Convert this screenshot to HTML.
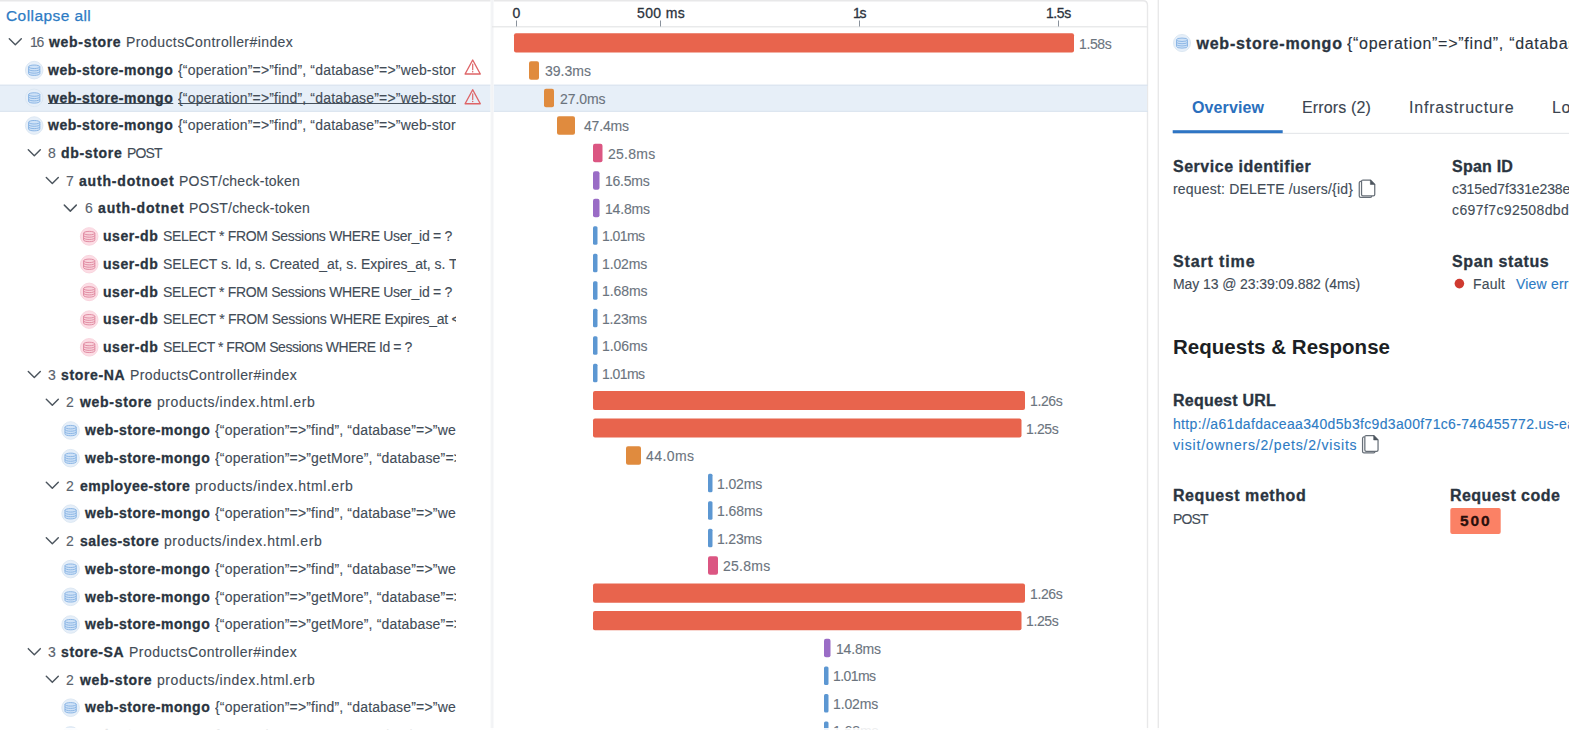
<!DOCTYPE html>
<html lang="en"><head><meta charset="utf-8"><title>Trace view</title>
<style>
html,body{margin:0;padding:0;background:#fff}
body{width:1569px;height:730px;overflow:hidden;position:relative;font-family:"Liberation Sans", sans-serif;-webkit-font-smoothing:antialiased}
.abs{position:absolute}
.t{white-space:nowrap}
.b{-webkit-text-stroke:0.3px currentColor}
.r{-webkit-text-stroke:0.12px currentColor}
</style></head>
<body>
<svg class="abs" style="left:0;top:0" width="1569" height="730" viewBox="0 0 1569 730">
<path d="M0 0.7 H1143 Q1147.5 0.7 1147.5 5.2 V730" fill="none" stroke="#e8e8e9" stroke-width="1.4"/>
<rect x="0" y="84.7" width="1147" height="27" fill="#e7eff8"/>
<rect x="0" y="84.7" width="1148" height="1" fill="#d9e3ee"/>
<rect x="0" y="110.8" width="1148" height="1" fill="#d9e3ee"/>
<rect x="490.4" y="0" width="3.4" height="730" fill="#f7f8f9"/>
<rect x="491.4" y="0" width="1.4" height="730" fill="#f1f2f4"/>
<rect x="492" y="26.2" width="655.5" height="1.2" fill="#e4e5e7"/>
<rect x="1157.6" y="0" width="1.4" height="730" fill="#e8e8e9"/>
<path transform="translate(8 37.10)" d="M1.3 1.7 L7.3 7.7 L13.3 1.7" fill="none" stroke="#4c555e" stroke-width="1.45" stroke-linecap="round" stroke-linejoin="round"/>
<g transform="translate(34.20 70.12) scale(0.925)"><circle cx="0" cy="0" r="9.5" fill="#e6eff9" stroke="#dae6f2" stroke-width="1"/><path d="M-6.1 -3.6 v7.4 a6.1 1.9 0 0 0 12.2 0 v-7.4" fill="#cfe2f7" stroke="#86b2e3" stroke-width="1"/><ellipse cx="0" cy="-3.6" rx="6.1" ry="1.9" fill="#cfe2f7" stroke="#86b2e3" stroke-width="1"/><path d="M-6.1 -1.1 a6.1 1.9 0 0 0 12.2 0 M-6.1 1.4 a6.1 1.9 0 0 0 12.2 0" fill="none" stroke="#86b2e3" stroke-width="1"/></g>
<g transform="translate(463.70 58.50)"><path d="M9 1.5 L16.6 15.5 H1.4 Z" fill="none" stroke="#de6467" stroke-width="1.35" stroke-linejoin="round"/><path d="M9 5.6 V11.2" stroke="#de6467" stroke-width="1.2" stroke-linecap="round"/><circle cx="9" cy="13.2" r="0.75" fill="#de6467"/></g>
<g transform="translate(34.20 97.84) scale(0.925)"><circle cx="0" cy="0" r="9.5" fill="#e6eff9" stroke="#dae6f2" stroke-width="1"/><path d="M-6.1 -3.6 v7.4 a6.1 1.9 0 0 0 12.2 0 v-7.4" fill="#cfe2f7" stroke="#86b2e3" stroke-width="1"/><ellipse cx="0" cy="-3.6" rx="6.1" ry="1.9" fill="#cfe2f7" stroke="#86b2e3" stroke-width="1"/><path d="M-6.1 -1.1 a6.1 1.9 0 0 0 12.2 0 M-6.1 1.4 a6.1 1.9 0 0 0 12.2 0" fill="none" stroke="#86b2e3" stroke-width="1"/></g>
<g transform="translate(463.70 88.20)"><path d="M9 1.5 L16.6 15.5 H1.4 Z" fill="none" stroke="#de6467" stroke-width="1.35" stroke-linejoin="round"/><path d="M9 5.6 V11.2" stroke="#de6467" stroke-width="1.2" stroke-linecap="round"/><circle cx="9" cy="13.2" r="0.75" fill="#de6467"/></g>
<g transform="translate(34.20 125.56) scale(0.925)"><circle cx="0" cy="0" r="9.5" fill="#e6eff9" stroke="#dae6f2" stroke-width="1"/><path d="M-6.1 -3.6 v7.4 a6.1 1.9 0 0 0 12.2 0 v-7.4" fill="#cfe2f7" stroke="#86b2e3" stroke-width="1"/><ellipse cx="0" cy="-3.6" rx="6.1" ry="1.9" fill="#cfe2f7" stroke="#86b2e3" stroke-width="1"/><path d="M-6.1 -1.1 a6.1 1.9 0 0 0 12.2 0 M-6.1 1.4 a6.1 1.9 0 0 0 12.2 0" fill="none" stroke="#86b2e3" stroke-width="1"/></g>
<path transform="translate(27 147.98)" d="M1.3 1.7 L7.3 7.7 L13.3 1.7" fill="none" stroke="#4c555e" stroke-width="1.45" stroke-linecap="round" stroke-linejoin="round"/>
<path transform="translate(45 175.70)" d="M1.3 1.7 L7.3 7.7 L13.3 1.7" fill="none" stroke="#4c555e" stroke-width="1.45" stroke-linecap="round" stroke-linejoin="round"/>
<path transform="translate(63 203.42)" d="M1.3 1.7 L7.3 7.7 L13.3 1.7" fill="none" stroke="#4c555e" stroke-width="1.45" stroke-linecap="round" stroke-linejoin="round"/>
<g transform="translate(89.20 236.44) scale(0.925)"><circle cx="0" cy="0" r="9.5" fill="#fcdde5" stroke="#f9d3dc" stroke-width="1"/><path d="M-6.1 -3.6 v7.4 a6.1 1.9 0 0 0 12.2 0 v-7.4" fill="#f9d3dc" stroke="#de879e" stroke-width="1"/><ellipse cx="0" cy="-3.6" rx="6.1" ry="1.9" fill="#f9d3dc" stroke="#de879e" stroke-width="1"/><path d="M-6.1 -1.1 a6.1 1.9 0 0 0 12.2 0 M-6.1 1.4 a6.1 1.9 0 0 0 12.2 0" fill="none" stroke="#de879e" stroke-width="1"/></g>
<g transform="translate(89.20 264.16) scale(0.925)"><circle cx="0" cy="0" r="9.5" fill="#fcdde5" stroke="#f9d3dc" stroke-width="1"/><path d="M-6.1 -3.6 v7.4 a6.1 1.9 0 0 0 12.2 0 v-7.4" fill="#f9d3dc" stroke="#de879e" stroke-width="1"/><ellipse cx="0" cy="-3.6" rx="6.1" ry="1.9" fill="#f9d3dc" stroke="#de879e" stroke-width="1"/><path d="M-6.1 -1.1 a6.1 1.9 0 0 0 12.2 0 M-6.1 1.4 a6.1 1.9 0 0 0 12.2 0" fill="none" stroke="#de879e" stroke-width="1"/></g>
<g transform="translate(89.20 291.88) scale(0.925)"><circle cx="0" cy="0" r="9.5" fill="#fcdde5" stroke="#f9d3dc" stroke-width="1"/><path d="M-6.1 -3.6 v7.4 a6.1 1.9 0 0 0 12.2 0 v-7.4" fill="#f9d3dc" stroke="#de879e" stroke-width="1"/><ellipse cx="0" cy="-3.6" rx="6.1" ry="1.9" fill="#f9d3dc" stroke="#de879e" stroke-width="1"/><path d="M-6.1 -1.1 a6.1 1.9 0 0 0 12.2 0 M-6.1 1.4 a6.1 1.9 0 0 0 12.2 0" fill="none" stroke="#de879e" stroke-width="1"/></g>
<g transform="translate(89.20 319.60) scale(0.925)"><circle cx="0" cy="0" r="9.5" fill="#fcdde5" stroke="#f9d3dc" stroke-width="1"/><path d="M-6.1 -3.6 v7.4 a6.1 1.9 0 0 0 12.2 0 v-7.4" fill="#f9d3dc" stroke="#de879e" stroke-width="1"/><ellipse cx="0" cy="-3.6" rx="6.1" ry="1.9" fill="#f9d3dc" stroke="#de879e" stroke-width="1"/><path d="M-6.1 -1.1 a6.1 1.9 0 0 0 12.2 0 M-6.1 1.4 a6.1 1.9 0 0 0 12.2 0" fill="none" stroke="#de879e" stroke-width="1"/></g>
<g transform="translate(89.20 347.32) scale(0.925)"><circle cx="0" cy="0" r="9.5" fill="#fcdde5" stroke="#f9d3dc" stroke-width="1"/><path d="M-6.1 -3.6 v7.4 a6.1 1.9 0 0 0 12.2 0 v-7.4" fill="#f9d3dc" stroke="#de879e" stroke-width="1"/><ellipse cx="0" cy="-3.6" rx="6.1" ry="1.9" fill="#f9d3dc" stroke="#de879e" stroke-width="1"/><path d="M-6.1 -1.1 a6.1 1.9 0 0 0 12.2 0 M-6.1 1.4 a6.1 1.9 0 0 0 12.2 0" fill="none" stroke="#de879e" stroke-width="1"/></g>
<path transform="translate(27 369.74)" d="M1.3 1.7 L7.3 7.7 L13.3 1.7" fill="none" stroke="#4c555e" stroke-width="1.45" stroke-linecap="round" stroke-linejoin="round"/>
<path transform="translate(45 397.46)" d="M1.3 1.7 L7.3 7.7 L13.3 1.7" fill="none" stroke="#4c555e" stroke-width="1.45" stroke-linecap="round" stroke-linejoin="round"/>
<g transform="translate(70.60 430.48) scale(0.925)"><circle cx="0" cy="0" r="9.5" fill="#e6eff9" stroke="#dae6f2" stroke-width="1"/><path d="M-6.1 -3.6 v7.4 a6.1 1.9 0 0 0 12.2 0 v-7.4" fill="#cfe2f7" stroke="#86b2e3" stroke-width="1"/><ellipse cx="0" cy="-3.6" rx="6.1" ry="1.9" fill="#cfe2f7" stroke="#86b2e3" stroke-width="1"/><path d="M-6.1 -1.1 a6.1 1.9 0 0 0 12.2 0 M-6.1 1.4 a6.1 1.9 0 0 0 12.2 0" fill="none" stroke="#86b2e3" stroke-width="1"/></g>
<g transform="translate(70.60 458.20) scale(0.925)"><circle cx="0" cy="0" r="9.5" fill="#e6eff9" stroke="#dae6f2" stroke-width="1"/><path d="M-6.1 -3.6 v7.4 a6.1 1.9 0 0 0 12.2 0 v-7.4" fill="#cfe2f7" stroke="#86b2e3" stroke-width="1"/><ellipse cx="0" cy="-3.6" rx="6.1" ry="1.9" fill="#cfe2f7" stroke="#86b2e3" stroke-width="1"/><path d="M-6.1 -1.1 a6.1 1.9 0 0 0 12.2 0 M-6.1 1.4 a6.1 1.9 0 0 0 12.2 0" fill="none" stroke="#86b2e3" stroke-width="1"/></g>
<path transform="translate(45 480.62)" d="M1.3 1.7 L7.3 7.7 L13.3 1.7" fill="none" stroke="#4c555e" stroke-width="1.45" stroke-linecap="round" stroke-linejoin="round"/>
<g transform="translate(70.60 513.64) scale(0.925)"><circle cx="0" cy="0" r="9.5" fill="#e6eff9" stroke="#dae6f2" stroke-width="1"/><path d="M-6.1 -3.6 v7.4 a6.1 1.9 0 0 0 12.2 0 v-7.4" fill="#cfe2f7" stroke="#86b2e3" stroke-width="1"/><ellipse cx="0" cy="-3.6" rx="6.1" ry="1.9" fill="#cfe2f7" stroke="#86b2e3" stroke-width="1"/><path d="M-6.1 -1.1 a6.1 1.9 0 0 0 12.2 0 M-6.1 1.4 a6.1 1.9 0 0 0 12.2 0" fill="none" stroke="#86b2e3" stroke-width="1"/></g>
<path transform="translate(45 536.06)" d="M1.3 1.7 L7.3 7.7 L13.3 1.7" fill="none" stroke="#4c555e" stroke-width="1.45" stroke-linecap="round" stroke-linejoin="round"/>
<g transform="translate(70.60 569.08) scale(0.925)"><circle cx="0" cy="0" r="9.5" fill="#e6eff9" stroke="#dae6f2" stroke-width="1"/><path d="M-6.1 -3.6 v7.4 a6.1 1.9 0 0 0 12.2 0 v-7.4" fill="#cfe2f7" stroke="#86b2e3" stroke-width="1"/><ellipse cx="0" cy="-3.6" rx="6.1" ry="1.9" fill="#cfe2f7" stroke="#86b2e3" stroke-width="1"/><path d="M-6.1 -1.1 a6.1 1.9 0 0 0 12.2 0 M-6.1 1.4 a6.1 1.9 0 0 0 12.2 0" fill="none" stroke="#86b2e3" stroke-width="1"/></g>
<g transform="translate(70.60 596.80) scale(0.925)"><circle cx="0" cy="0" r="9.5" fill="#e6eff9" stroke="#dae6f2" stroke-width="1"/><path d="M-6.1 -3.6 v7.4 a6.1 1.9 0 0 0 12.2 0 v-7.4" fill="#cfe2f7" stroke="#86b2e3" stroke-width="1"/><ellipse cx="0" cy="-3.6" rx="6.1" ry="1.9" fill="#cfe2f7" stroke="#86b2e3" stroke-width="1"/><path d="M-6.1 -1.1 a6.1 1.9 0 0 0 12.2 0 M-6.1 1.4 a6.1 1.9 0 0 0 12.2 0" fill="none" stroke="#86b2e3" stroke-width="1"/></g>
<g transform="translate(70.60 624.52) scale(0.925)"><circle cx="0" cy="0" r="9.5" fill="#e6eff9" stroke="#dae6f2" stroke-width="1"/><path d="M-6.1 -3.6 v7.4 a6.1 1.9 0 0 0 12.2 0 v-7.4" fill="#cfe2f7" stroke="#86b2e3" stroke-width="1"/><ellipse cx="0" cy="-3.6" rx="6.1" ry="1.9" fill="#cfe2f7" stroke="#86b2e3" stroke-width="1"/><path d="M-6.1 -1.1 a6.1 1.9 0 0 0 12.2 0 M-6.1 1.4 a6.1 1.9 0 0 0 12.2 0" fill="none" stroke="#86b2e3" stroke-width="1"/></g>
<path transform="translate(27 646.94)" d="M1.3 1.7 L7.3 7.7 L13.3 1.7" fill="none" stroke="#4c555e" stroke-width="1.45" stroke-linecap="round" stroke-linejoin="round"/>
<path transform="translate(45 674.66)" d="M1.3 1.7 L7.3 7.7 L13.3 1.7" fill="none" stroke="#4c555e" stroke-width="1.45" stroke-linecap="round" stroke-linejoin="round"/>
<g transform="translate(70.60 707.68) scale(0.925)"><circle cx="0" cy="0" r="9.5" fill="#e6eff9" stroke="#dae6f2" stroke-width="1"/><path d="M-6.1 -3.6 v7.4 a6.1 1.9 0 0 0 12.2 0 v-7.4" fill="#cfe2f7" stroke="#86b2e3" stroke-width="1"/><ellipse cx="0" cy="-3.6" rx="6.1" ry="1.9" fill="#cfe2f7" stroke="#86b2e3" stroke-width="1"/><path d="M-6.1 -1.1 a6.1 1.9 0 0 0 12.2 0 M-6.1 1.4 a6.1 1.9 0 0 0 12.2 0" fill="none" stroke="#86b2e3" stroke-width="1"/></g>
<g transform="translate(70.60 735.40) scale(0.925)"><circle cx="0" cy="0" r="9.5" fill="#e6eff9" stroke="#dae6f2" stroke-width="1"/><path d="M-6.1 -3.6 v7.4 a6.1 1.9 0 0 0 12.2 0 v-7.4" fill="#cfe2f7" stroke="#86b2e3" stroke-width="1"/><ellipse cx="0" cy="-3.6" rx="6.1" ry="1.9" fill="#cfe2f7" stroke="#86b2e3" stroke-width="1"/><path d="M-6.1 -1.1 a6.1 1.9 0 0 0 12.2 0 M-6.1 1.4 a6.1 1.9 0 0 0 12.2 0" fill="none" stroke="#86b2e3" stroke-width="1"/></g>
<rect x="514" y="33.35" width="560" height="19.1" rx="2" fill="#e8644d"/>
<rect x="529" y="61.16" width="10" height="18.5" rx="2" fill="#e08b3e"/>
<rect x="544" y="88.67" width="10" height="18.5" rx="2" fill="#e08b3e"/>
<rect x="557" y="116.18" width="18" height="18.5" rx="2" fill="#e08b3e"/>
<rect x="593" y="143.69" width="9.5" height="18.5" rx="2" fill="#db5682"/>
<rect x="593" y="171.20" width="6.5" height="18.5" rx="2" fill="#9a6cc6"/>
<rect x="593" y="198.71" width="6.5" height="18.5" rx="2" fill="#9a6cc6"/>
<rect x="593" y="226.22" width="4.5" height="18.5" rx="1.5" fill="#5c97d2"/>
<rect x="593" y="253.73" width="4.5" height="18.5" rx="1.5" fill="#5c97d2"/>
<rect x="593" y="281.24" width="4.5" height="18.5" rx="1.5" fill="#5c97d2"/>
<rect x="593" y="308.75" width="4.5" height="18.5" rx="1.5" fill="#5c97d2"/>
<rect x="593" y="336.26" width="4.5" height="18.5" rx="1.5" fill="#5c97d2"/>
<rect x="593" y="363.77" width="4.5" height="18.5" rx="1.5" fill="#5c97d2"/>
<rect x="593" y="390.98" width="432" height="19.1" rx="2" fill="#e8644d"/>
<rect x="593" y="418.49" width="428.5" height="19.1" rx="2" fill="#e8644d"/>
<rect x="626" y="446.30" width="15" height="18.5" rx="2" fill="#e08b3e"/>
<rect x="708" y="473.81" width="4.5" height="18.5" rx="1.5" fill="#5c97d2"/>
<rect x="708" y="501.32" width="4.5" height="18.5" rx="1.5" fill="#5c97d2"/>
<rect x="708" y="528.83" width="4.5" height="18.5" rx="1.5" fill="#5c97d2"/>
<rect x="708" y="556.34" width="10" height="18.5" rx="2" fill="#db5682"/>
<rect x="593" y="583.55" width="432" height="19.1" rx="2" fill="#e8644d"/>
<rect x="593" y="611.06" width="428.5" height="19.1" rx="2" fill="#e8644d"/>
<rect x="824" y="638.87" width="6.5" height="18.5" rx="2" fill="#9a6cc6"/>
<rect x="824" y="666.38" width="4.5" height="18.5" rx="1.5" fill="#5c97d2"/>
<rect x="824" y="693.89" width="4.5" height="18.5" rx="1.5" fill="#5c97d2"/>
<rect x="824" y="721.40" width="4.5" height="18.5" rx="1.5" fill="#5c97d2"/>
<rect x="516.0" y="20.5" width="1" height="6" fill="#8a929c"/>
<rect x="660.0" y="20.5" width="1" height="6" fill="#8a929c"/>
<rect x="859.0" y="20.5" width="1" height="6" fill="#8a929c"/>
<rect x="1058.0" y="20.5" width="1" height="6" fill="#8a929c"/>
<g transform="translate(1182.00 43.00) scale(0.900)"><circle cx="0" cy="0" r="9.5" fill="#e6eff9" stroke="#dae6f2" stroke-width="1"/><path d="M-6.1 -3.6 v7.4 a6.1 1.9 0 0 0 12.2 0 v-7.4" fill="#cfe2f7" stroke="#86b2e3" stroke-width="1"/><ellipse cx="0" cy="-3.6" rx="6.1" ry="1.9" fill="#cfe2f7" stroke="#86b2e3" stroke-width="1"/><path d="M-6.1 -1.1 a6.1 1.9 0 0 0 12.2 0 M-6.1 1.4 a6.1 1.9 0 0 0 12.2 0" fill="none" stroke="#86b2e3" stroke-width="1"/></g>
<rect x="1173" y="132.8" width="396" height="1.2" fill="#e6e8eb"/>
<rect x="1172.7" y="130.2" width="110" height="3" fill="#2e75c4"/>
<g transform="translate(1358.5 179.2) scale(0.95)"><path d="M3 2.4 H2.3 Q0.8 2.4 0.8 3.9 V17.6 Q0.8 19.1 2.3 19.1 H12.4 Q13.9 19.1 13.9 17.8" fill="none" stroke="#676f78" stroke-width="1.3"/><path d="M4.7 0.9 H12.5 L17.1 5.5 V16 Q17.1 17.5 15.6 17.5 H4.7 Q3.2 17.5 3.2 16 V2.4 Q3.2 0.9 4.7 0.9 Z" fill="#fff" stroke="#676f78" stroke-width="1.3" stroke-linejoin="round"/><path d="M12.5 0.9 V5.5 H17.1 Z" fill="#4d555e" stroke="#4d555e" stroke-width="0.6" stroke-linejoin="round"/></g>
<circle cx="1459.4" cy="283.6" r="4.8" fill="#cf3a30"/>
<g transform="translate(1361.8 434.7) scale(0.95)"><path d="M3 2.4 H2.3 Q0.8 2.4 0.8 3.9 V17.6 Q0.8 19.1 2.3 19.1 H12.4 Q13.9 19.1 13.9 17.8" fill="none" stroke="#676f78" stroke-width="1.3"/><path d="M4.7 0.9 H12.5 L17.1 5.5 V16 Q17.1 17.5 15.6 17.5 H4.7 Q3.2 17.5 3.2 16 V2.4 Q3.2 0.9 4.7 0.9 Z" fill="#fff" stroke="#676f78" stroke-width="1.3" stroke-linejoin="round"/><path d="M12.5 0.9 V5.5 H17.1 Z" fill="#4d555e" stroke="#4d555e" stroke-width="0.6" stroke-linejoin="round"/></g>
<rect x="1450.3" y="508" width="50.4" height="26" rx="2" fill="#fb8165"/>
</svg>
<div class="abs t r" style="left:30px;top:33.10px;font-size:14px;line-height:18px;font-weight:400;color:#59626c;letter-spacing:-1.385px;">16</div>
<div class="abs t b" style="left:49px;top:33.10px;font-size:14px;line-height:18px;font-weight:700;color:#2a3440;letter-spacing:0.691px;">web-store</div>
<div class="abs t r" style="left:126px;top:33.10px;font-size:14px;line-height:18px;font-weight:400;color:#424c57;letter-spacing:0.417px;">ProductsController#index</div>
<div class="abs t b" style="left:48px;top:60.82px;font-size:14px;line-height:18px;font-weight:700;color:#2a3440;letter-spacing:0.520px;">web-store-mongo</div>
<div class="abs t r" style="left:178px;top:60.82px;font-size:14px;line-height:18px;font-weight:400;color:#424c57;letter-spacing:0.180px;width:278.3px;overflow:hidden;">{“operation”=>”find”, “database”=>”web-store”}</div>
<div class="abs t b" style="left:48px;top:88.54px;font-size:14px;line-height:18px;font-weight:700;color:#2a3440;letter-spacing:0.520px;text-decoration:underline;text-decoration-thickness:1px;text-underline-offset:0.3px;text-decoration-skip-ink:none;text-decoration-color:#46515c;">web-store-mongo</div>
<div class="abs t r" style="left:178px;top:88.54px;font-size:14px;line-height:18px;font-weight:400;color:#424c57;letter-spacing:0.180px;text-decoration:underline;text-decoration-thickness:1px;text-underline-offset:0.3px;text-decoration-skip-ink:none;text-decoration-color:#46515c;width:278.3px;overflow:hidden;">{“operation”=>”find”, “database”=>”web-store”}</div>
<div class="abs t b" style="left:48px;top:116.26px;font-size:14px;line-height:18px;font-weight:700;color:#2a3440;letter-spacing:0.520px;">web-store-mongo</div>
<div class="abs t r" style="left:178px;top:116.26px;font-size:14px;line-height:18px;font-weight:400;color:#424c57;letter-spacing:0.180px;width:278.3px;overflow:hidden;">{“operation”=>”find”, “database”=>”web-store”}</div>
<div class="abs t r" style="left:48px;top:143.98px;font-size:14px;line-height:18px;font-weight:400;color:#59626c;">8</div>
<div class="abs t b" style="left:61px;top:143.98px;font-size:14px;line-height:18px;font-weight:700;color:#2a3440;letter-spacing:0.667px;">db-store</div>
<div class="abs t r" style="left:127px;top:143.98px;font-size:14px;line-height:18px;font-weight:400;color:#424c57;letter-spacing:-0.893px;">POST</div>
<div class="abs t r" style="left:66px;top:171.70px;font-size:14px;line-height:18px;font-weight:400;color:#59626c;">7</div>
<div class="abs t b" style="left:79px;top:171.70px;font-size:14px;line-height:18px;font-weight:700;color:#2a3440;letter-spacing:0.823px;">auth-dotnoet</div>
<div class="abs t r" style="left:179px;top:171.70px;font-size:14px;line-height:18px;font-weight:400;color:#424c57;letter-spacing:0.226px;">POST/check-token</div>
<div class="abs t r" style="left:85px;top:199.42px;font-size:14px;line-height:18px;font-weight:400;color:#59626c;">6</div>
<div class="abs t b" style="left:98px;top:199.42px;font-size:14px;line-height:18px;font-weight:700;color:#2a3440;letter-spacing:0.859px;">auth-dotnet</div>
<div class="abs t r" style="left:189px;top:199.42px;font-size:14px;line-height:18px;font-weight:400;color:#424c57;letter-spacing:0.226px;">POST/check-token</div>
<div class="abs t b" style="left:103px;top:227.14px;font-size:14px;line-height:18px;font-weight:700;color:#2a3440;letter-spacing:0.562px;">user-db</div>
<div class="abs t r" style="left:163px;top:227.14px;font-size:14px;line-height:18px;font-weight:400;color:#424c57;letter-spacing:-0.309px;">SELECT * FROM Sessions WHERE User_id = ?</div>
<div class="abs t b" style="left:103px;top:254.86px;font-size:14px;line-height:18px;font-weight:700;color:#2a3440;letter-spacing:0.562px;">user-db</div>
<div class="abs t r" style="left:163px;top:254.86px;font-size:14px;line-height:18px;font-weight:400;color:#424c57;letter-spacing:-0.031px;width:293.3px;overflow:hidden;">SELECT s. Id, s. Created_at, s. Expires_at, s. Token, s. User_id</div>
<div class="abs t b" style="left:103px;top:282.58px;font-size:14px;line-height:18px;font-weight:700;color:#2a3440;letter-spacing:0.562px;">user-db</div>
<div class="abs t r" style="left:163px;top:282.58px;font-size:14px;line-height:18px;font-weight:400;color:#424c57;letter-spacing:-0.309px;">SELECT * FROM Sessions WHERE User_id = ?</div>
<div class="abs t b" style="left:103px;top:310.30px;font-size:14px;line-height:18px;font-weight:700;color:#2a3440;letter-spacing:0.562px;">user-db</div>
<div class="abs t r" style="left:163px;top:310.30px;font-size:14px;line-height:18px;font-weight:400;color:#424c57;letter-spacing:-0.270px;width:293.3px;overflow:hidden;">SELECT * FROM Sessions WHERE Expires_at < ?</div>
<div class="abs t b" style="left:103px;top:338.02px;font-size:14px;line-height:18px;font-weight:700;color:#2a3440;letter-spacing:0.562px;">user-db</div>
<div class="abs t r" style="left:163px;top:338.02px;font-size:14px;line-height:18px;font-weight:400;color:#424c57;letter-spacing:-0.454px;">SELECT * FROM Sessions WHERE Id = ?</div>
<div class="abs t r" style="left:48px;top:365.74px;font-size:14px;line-height:18px;font-weight:400;color:#59626c;">3</div>
<div class="abs t b" style="left:61px;top:365.74px;font-size:14px;line-height:18px;font-weight:700;color:#2a3440;letter-spacing:0.650px;">store-NA</div>
<div class="abs t r" style="left:130px;top:365.74px;font-size:14px;line-height:18px;font-weight:400;color:#424c57;letter-spacing:0.417px;">ProductsController#index</div>
<div class="abs t r" style="left:66px;top:393.46px;font-size:14px;line-height:18px;font-weight:400;color:#59626c;">2</div>
<div class="abs t b" style="left:80px;top:393.46px;font-size:14px;line-height:18px;font-weight:700;color:#2a3440;letter-spacing:0.691px;">web-store</div>
<div class="abs t r" style="left:157px;top:393.46px;font-size:14px;line-height:18px;font-weight:400;color:#424c57;letter-spacing:0.554px;">products/index.html.erb</div>
<div class="abs t b" style="left:85px;top:421.18px;font-size:14px;line-height:18px;font-weight:700;color:#2a3440;letter-spacing:0.520px;">web-store-mongo</div>
<div class="abs t r" style="left:215px;top:421.18px;font-size:14px;line-height:18px;font-weight:400;color:#424c57;letter-spacing:0.180px;width:241.3px;overflow:hidden;">{“operation”=>”find”, “database”=>”web-store”}</div>
<div class="abs t b" style="left:85px;top:448.90px;font-size:14px;line-height:18px;font-weight:700;color:#2a3440;letter-spacing:0.520px;">web-store-mongo</div>
<div class="abs t r" style="left:215px;top:448.90px;font-size:14px;line-height:18px;font-weight:400;color:#424c57;letter-spacing:0.180px;width:241.3px;overflow:hidden;">{“operation”=>”getMore”, “database”=>”web-store”}</div>
<div class="abs t r" style="left:66px;top:476.62px;font-size:14px;line-height:18px;font-weight:400;color:#59626c;">2</div>
<div class="abs t b" style="left:80px;top:476.62px;font-size:14px;line-height:18px;font-weight:700;color:#2a3440;letter-spacing:0.483px;">employee-store</div>
<div class="abs t r" style="left:195px;top:476.62px;font-size:14px;line-height:18px;font-weight:400;color:#424c57;letter-spacing:0.554px;">products/index.html.erb</div>
<div class="abs t b" style="left:85px;top:504.34px;font-size:14px;line-height:18px;font-weight:700;color:#2a3440;letter-spacing:0.520px;">web-store-mongo</div>
<div class="abs t r" style="left:215px;top:504.34px;font-size:14px;line-height:18px;font-weight:400;color:#424c57;letter-spacing:0.180px;width:241.3px;overflow:hidden;">{“operation”=>”find”, “database”=>”web-store”}</div>
<div class="abs t r" style="left:66px;top:532.06px;font-size:14px;line-height:18px;font-weight:400;color:#59626c;">2</div>
<div class="abs t b" style="left:80px;top:532.06px;font-size:14px;line-height:18px;font-weight:700;color:#2a3440;letter-spacing:0.482px;">sales-store</div>
<div class="abs t r" style="left:164px;top:532.06px;font-size:14px;line-height:18px;font-weight:400;color:#424c57;letter-spacing:0.554px;">products/index.html.erb</div>
<div class="abs t b" style="left:85px;top:559.78px;font-size:14px;line-height:18px;font-weight:700;color:#2a3440;letter-spacing:0.520px;">web-store-mongo</div>
<div class="abs t r" style="left:215px;top:559.78px;font-size:14px;line-height:18px;font-weight:400;color:#424c57;letter-spacing:0.180px;width:241.3px;overflow:hidden;">{“operation”=>”find”, “database”=>”web-store”}</div>
<div class="abs t b" style="left:85px;top:587.50px;font-size:14px;line-height:18px;font-weight:700;color:#2a3440;letter-spacing:0.520px;">web-store-mongo</div>
<div class="abs t r" style="left:215px;top:587.50px;font-size:14px;line-height:18px;font-weight:400;color:#424c57;letter-spacing:0.180px;width:241.3px;overflow:hidden;">{“operation”=>”getMore”, “database”=>”web-store”}</div>
<div class="abs t b" style="left:85px;top:615.22px;font-size:14px;line-height:18px;font-weight:700;color:#2a3440;letter-spacing:0.520px;">web-store-mongo</div>
<div class="abs t r" style="left:215px;top:615.22px;font-size:14px;line-height:18px;font-weight:400;color:#424c57;letter-spacing:0.180px;width:241.3px;overflow:hidden;">{“operation”=>”getMore”, “database”=>”web-store”}</div>
<div class="abs t r" style="left:48px;top:642.94px;font-size:14px;line-height:18px;font-weight:400;color:#59626c;">3</div>
<div class="abs t b" style="left:61px;top:642.94px;font-size:14px;line-height:18px;font-weight:700;color:#2a3440;letter-spacing:0.619px;">store-SA</div>
<div class="abs t r" style="left:129px;top:642.94px;font-size:14px;line-height:18px;font-weight:400;color:#424c57;letter-spacing:0.459px;">ProductsController#index</div>
<div class="abs t r" style="left:66px;top:670.66px;font-size:14px;line-height:18px;font-weight:400;color:#59626c;">2</div>
<div class="abs t b" style="left:80px;top:670.66px;font-size:14px;line-height:18px;font-weight:700;color:#2a3440;letter-spacing:0.691px;">web-store</div>
<div class="abs t r" style="left:157px;top:670.66px;font-size:14px;line-height:18px;font-weight:400;color:#424c57;letter-spacing:0.554px;">products/index.html.erb</div>
<div class="abs t b" style="left:85px;top:698.38px;font-size:14px;line-height:18px;font-weight:700;color:#2a3440;letter-spacing:0.520px;">web-store-mongo</div>
<div class="abs t r" style="left:215px;top:698.38px;font-size:14px;line-height:18px;font-weight:400;color:#424c57;letter-spacing:0.180px;width:241.3px;overflow:hidden;">{“operation”=>”find”, “database”=>”web-store”}</div>
<div class="abs t b" style="left:85px;top:726.10px;font-size:14px;line-height:18px;font-weight:700;color:#2a3440;letter-spacing:0.520px;">web-store-mongo</div>
<div class="abs t r" style="left:215px;top:726.10px;font-size:14px;line-height:18px;font-weight:400;color:#424c57;letter-spacing:0.180px;width:241.3px;overflow:hidden;">{“operation”=>”getMore”, “database”=>”web-store”}</div>
<div class="abs t r" style="left:1079px;top:34.50px;font-size:14px;line-height:18px;font-weight:400;color:#6b747e;letter-spacing:-0.389px;">1.58s</div>
<div class="abs t r" style="left:545px;top:62.01px;font-size:14px;line-height:18px;font-weight:400;color:#6b747e;letter-spacing:0.014px;">39.3ms</div>
<div class="abs t r" style="left:560px;top:89.52px;font-size:14px;line-height:18px;font-weight:400;color:#6b747e;letter-spacing:-0.077px;">27.0ms</div>
<div class="abs t r" style="left:584px;top:117.03px;font-size:14px;line-height:18px;font-weight:400;color:#6b747e;letter-spacing:-0.168px;">47.4ms</div>
<div class="abs t r" style="left:608px;top:144.54px;font-size:14px;line-height:18px;font-weight:400;color:#6b747e;letter-spacing:0.251px;">25.8ms</div>
<div class="abs t r" style="left:605px;top:172.05px;font-size:14px;line-height:18px;font-weight:400;color:#6b747e;letter-spacing:-0.240px;">16.5ms</div>
<div class="abs t r" style="left:605px;top:199.56px;font-size:14px;line-height:18px;font-weight:400;color:#6b747e;letter-spacing:-0.168px;">14.8ms</div>
<div class="abs t r" style="left:602px;top:227.07px;font-size:14px;line-height:18px;font-weight:400;color:#6b747e;letter-spacing:-0.568px;">1.01ms</div>
<div class="abs t r" style="left:602px;top:254.58px;font-size:14px;line-height:18px;font-weight:400;color:#6b747e;letter-spacing:-0.131px;">1.02ms</div>
<div class="abs t r" style="left:602px;top:282.09px;font-size:14px;line-height:18px;font-weight:400;color:#6b747e;letter-spacing:-0.077px;">1.68ms</div>
<div class="abs t r" style="left:602px;top:309.60px;font-size:14px;line-height:18px;font-weight:400;color:#6b747e;letter-spacing:-0.168px;">1.23ms</div>
<div class="abs t r" style="left:602px;top:337.11px;font-size:14px;line-height:18px;font-weight:400;color:#6b747e;letter-spacing:-0.077px;">1.06ms</div>
<div class="abs t r" style="left:602px;top:364.62px;font-size:14px;line-height:18px;font-weight:400;color:#6b747e;letter-spacing:-0.568px;">1.01ms</div>
<div class="abs t r" style="left:1030px;top:392.13px;font-size:14px;line-height:18px;font-weight:400;color:#6b747e;letter-spacing:-0.389px;">1.26s</div>
<div class="abs t r" style="left:1026px;top:419.64px;font-size:14px;line-height:18px;font-weight:400;color:#6b747e;letter-spacing:-0.367px;">1.25s</div>
<div class="abs t r" style="left:646px;top:447.15px;font-size:14px;line-height:18px;font-weight:400;color:#6b747e;letter-spacing:0.414px;">44.0ms</div>
<div class="abs t r" style="left:717px;top:474.66px;font-size:14px;line-height:18px;font-weight:400;color:#6b747e;letter-spacing:-0.131px;">1.02ms</div>
<div class="abs t r" style="left:717px;top:502.17px;font-size:14px;line-height:18px;font-weight:400;color:#6b747e;letter-spacing:-0.077px;">1.68ms</div>
<div class="abs t r" style="left:717px;top:529.68px;font-size:14px;line-height:18px;font-weight:400;color:#6b747e;letter-spacing:-0.168px;">1.23ms</div>
<div class="abs t r" style="left:723px;top:557.19px;font-size:14px;line-height:18px;font-weight:400;color:#6b747e;letter-spacing:0.251px;">25.8ms</div>
<div class="abs t r" style="left:1030px;top:584.70px;font-size:14px;line-height:18px;font-weight:400;color:#6b747e;letter-spacing:-0.389px;">1.26s</div>
<div class="abs t r" style="left:1026px;top:612.21px;font-size:14px;line-height:18px;font-weight:400;color:#6b747e;letter-spacing:-0.367px;">1.25s</div>
<div class="abs t r" style="left:836px;top:639.72px;font-size:14px;line-height:18px;font-weight:400;color:#6b747e;letter-spacing:-0.168px;">14.8ms</div>
<div class="abs t r" style="left:833px;top:667.23px;font-size:14px;line-height:18px;font-weight:400;color:#6b747e;letter-spacing:-0.568px;">1.01ms</div>
<div class="abs t r" style="left:833px;top:694.74px;font-size:14px;line-height:18px;font-weight:400;color:#6b747e;letter-spacing:-0.131px;">1.02ms</div>
<div class="abs t r" style="left:833px;top:722.25px;font-size:14px;line-height:18px;font-weight:400;color:#6b747e;letter-spacing:-0.077px;">1.68ms</div>
<div class="abs t r" style="left:512.5px;top:4.10px;font-size:14px;line-height:18px;font-weight:400;color:#2b333d;-webkit-text-stroke:0.3px #2b333d;">0</div>
<div class="abs t r" style="left:637px;top:4.10px;font-size:14px;line-height:18px;font-weight:400;color:#2b333d;letter-spacing:0.378px;-webkit-text-stroke:0.3px #2b333d;">500 ms</div>
<div class="abs t r" style="left:853px;top:4.10px;font-size:14px;line-height:18px;font-weight:400;color:#2b333d;letter-spacing:-1.198px;-webkit-text-stroke:0.3px #2b333d;">1s</div>
<div class="abs t r" style="left:1046px;top:4.10px;font-size:14px;line-height:18px;font-weight:400;color:#2b333d;letter-spacing:-0.420px;-webkit-text-stroke:0.3px #2b333d;">1.5s</div>
<div class="abs t r" style="left:6px;top:5.60px;font-size:15.5px;line-height:20px;font-weight:400;color:#2d7bc4;letter-spacing:0.423px;-webkit-text-stroke:0.25px #2d7bc4;">Collapse all</div>
<div class="abs t b" style="left:1196.4px;top:32.50px;font-size:16px;line-height:21px;font-weight:700;color:#2a3440;letter-spacing:0.812px;">web-store-mongo</div>
<div class="abs t r" style="left:1347px;top:32.50px;font-size:16px;line-height:21px;font-weight:400;color:#2b333d;letter-spacing:0.700px;width:222px;overflow:hidden;">{“operation”=>”find”, “database”=>”web-store”}</div>
<div class="abs t b" style="left:1192px;top:96.50px;font-size:16px;line-height:21px;font-weight:700;color:#2a6fbd;letter-spacing:0.113px;-webkit-text-stroke:0 transparent;">Overview</div>
<div class="abs t r" style="left:1302px;top:96.50px;font-size:16px;line-height:21px;font-weight:400;color:#3a4450;letter-spacing:0.151px;">Errors (2)</div>
<div class="abs t r" style="left:1409px;top:96.50px;font-size:16px;line-height:21px;font-weight:400;color:#3a4450;letter-spacing:0.795px;">Infrastructure</div>
<div class="abs t r" style="left:1552px;top:96.50px;font-size:16px;line-height:21px;font-weight:400;color:#3a4450;letter-spacing:0.700px;">Logs</div>
<div class="abs t b" style="left:1173px;top:155.50px;font-size:16px;line-height:21px;font-weight:700;color:#2a3440;letter-spacing:0.517px;">Service identifier</div>
<div class="abs t r" style="left:1173px;top:180.00px;font-size:14px;line-height:18px;font-weight:400;color:#424c57;letter-spacing:0.185px;">request: DELETE /users/{id}</div>
<div class="abs t b" style="left:1452px;top:155.50px;font-size:16px;line-height:21px;font-weight:700;color:#2a3440;letter-spacing:0.221px;">Span ID</div>
<div class="abs t r" style="left:1452px;top:179.50px;font-size:14px;line-height:18px;font-weight:400;color:#424c57;letter-spacing:-0.104px;">c315ed7f331e238e4a7b</div>
<div class="abs t r" style="left:1452px;top:200.50px;font-size:14px;line-height:18px;font-weight:400;color:#424c57;letter-spacing:0.391px;">c697f7c92508dbd1f3e0</div>
<div class="abs t b" style="left:1173px;top:250.50px;font-size:16px;line-height:21px;font-weight:700;color:#2a3440;letter-spacing:0.863px;">Start time</div>
<div class="abs t r" style="left:1173px;top:274.50px;font-size:14px;line-height:18px;font-weight:400;color:#424c57;letter-spacing:-0.087px;">May 13 @ 23:39:09.882 (4ms)</div>
<div class="abs t b" style="left:1452px;top:250.50px;font-size:16px;line-height:21px;font-weight:700;color:#2a3440;letter-spacing:0.601px;">Span status</div>
<div class="abs t r" style="left:1473px;top:274.50px;font-size:14px;line-height:18px;font-weight:400;color:#424c57;letter-spacing:0.194px;">Fault</div>
<div class="abs t r" style="left:1516px;top:274.50px;font-size:14px;line-height:18px;font-weight:400;color:#2d7bc4;letter-spacing:0.200px;">View errors</div>
<div class="abs t b" style="left:1173px;top:332.70px;font-size:20.5px;line-height:27px;font-weight:700;color:#1c1f24;letter-spacing:0.030px;-webkit-text-stroke:0 transparent;">Requests &amp; Response</div>
<div class="abs t b" style="left:1173px;top:390.00px;font-size:16px;line-height:21px;font-weight:700;color:#2a3440;letter-spacing:0.243px;">Request URL</div>
<div class="abs t r" style="left:1173px;top:414.50px;font-size:14px;line-height:18px;font-weight:400;color:#2d7bc4;letter-spacing:0.336px;">http://a61dafdaceaa340d5b3fc9d3a00f71c6-746455772.us-east-1.elb</div>
<div class="abs t r" style="left:1173px;top:435.50px;font-size:14px;line-height:18px;font-weight:400;color:#2d7bc4;letter-spacing:0.806px;">visit/owners/2/pets/2/visits</div>
<div class="abs t b" style="left:1173px;top:485.00px;font-size:16px;line-height:21px;font-weight:700;color:#2a3440;letter-spacing:0.567px;">Request method</div>
<div class="abs t r" style="left:1173px;top:509.50px;font-size:14px;line-height:18px;font-weight:400;color:#424c57;letter-spacing:-0.893px;">POST</div>
<div class="abs t b" style="left:1450px;top:485.00px;font-size:16px;line-height:21px;font-weight:700;color:#2a3440;letter-spacing:0.442px;">Request code</div>
<div class="abs t b" style="left:1460px;top:510.60px;font-size:15.5px;line-height:20px;font-weight:700;color:#2a0f0c;letter-spacing:1.850px;">500</div>
<div class="abs" style="left:0;top:728px;width:1569px;height:2px;background:rgba(255,255,255,0.88)"></div>
</body></html>
